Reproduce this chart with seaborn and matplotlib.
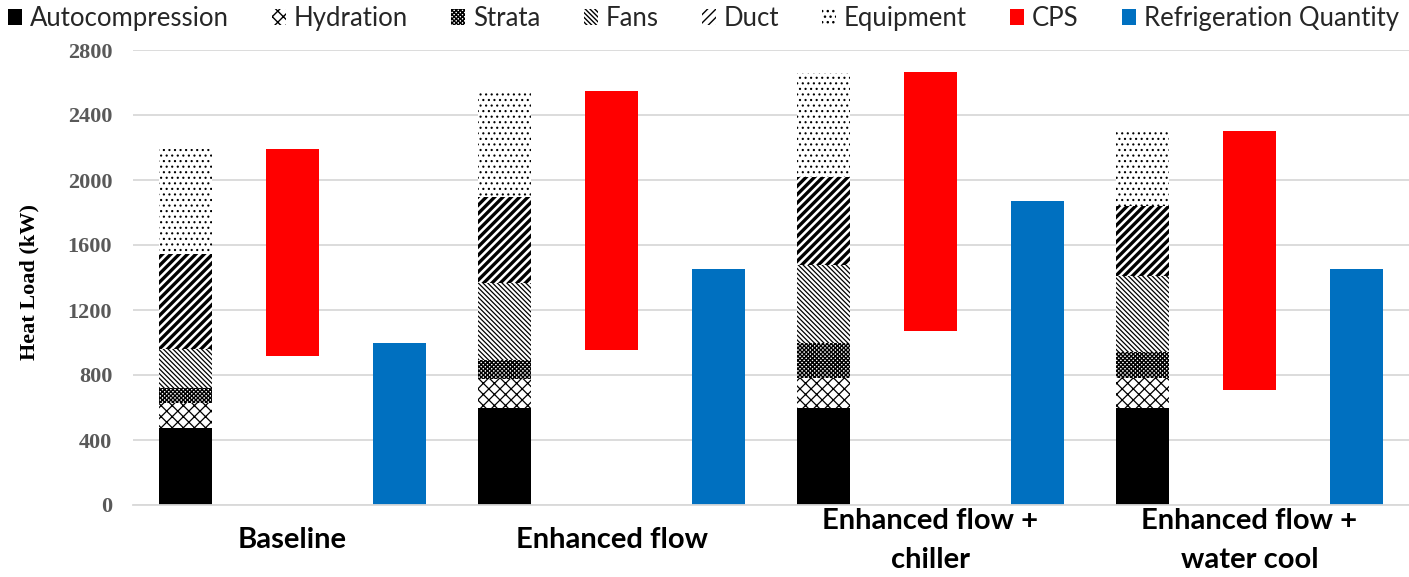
import numpy as np
import matplotlib
matplotlib.use("Agg")
import matplotlib.pyplot as plt
from matplotlib.patches import Patch
import seaborn as sns

# ---- data (kW) ----
scenarios = ["Baseline", "Enhanced flow", "Enhanced flow +\nchiller", "Enhanced flow +\nwater cool"]
autocompression = [475, 600, 600, 600]
hydration = [155, 175, 180, 180]
strata = [90, 115, 220, 160]
fans = [240, 475, 480, 470]
duct = [585, 530, 540, 430]
equipment = [645, 655, 640, 460]
cps_low = [920, 955, 1070, 710]
cps_high = [2190, 2550, 2665, 2300]
refrigeration = [1000, 1450, 1870, 1450]

y_ticks = [0, 400, 800, 1200, 1600, 2000, 2400, 2800]

sns.set_style("white")
plt.rcParams["font.family"] = ["Lato", "DejaVu Sans"]

fig = plt.figure(figsize=(14.09, 5.77), dpi=100)
ax = fig.add_axes([133 / 1409, 72 / 577, 1276 / 1409, 455 / 577])

idx = np.arange(len(scenarios))
offset = 0.335
bar_w = 0.166
x_stack = idx - offset
x_cps = idx
x_ref = idx + offset

# stacked components: (label, values, face, hatch, hatch linewidth)
layers = [
    ("Autocompression", autocompression, "black", None, 1.0),
    ("Hydration", hydration, "white", "xxx", 0.9),
    ("Strata", strata, "white", "xxxxxxxx", 1.0),
    ("Fans", fans, "white", "\\" * 7, 0.9),
    ("Duct", duct, "white", "////", 2.4),
    ("Equipment", equipment, "white", "...", 0.8),
]

tops = np.cumsum([np.asarray(v, dtype=float) for _, v, _, _, _ in layers], axis=0)

# draw cumulative tops from the highest layer down so each lower segment covers the one above
for k in range(len(layers) - 1, -1, -1):
    name, _, face, hatch, hlw = layers[k]
    with plt.rc_context({"hatch.linewidth": hlw}):
        n_before = len(ax.patches)
        sns.barplot(x=x_stack, y=tops[k], native_scale=True, width=bar_w,
                    color=face, saturation=1, edgecolor="black", linewidth=0,
                    hatch=hatch, errorbar=None, ax=ax)
        for p in ax.patches[n_before:]:
            if hasattr(p, "set_hatch_linewidth"):
                p.set_hatch_linewidth(hlw)

# CPS floating bars
cps_height = np.asarray(cps_high) - np.asarray(cps_low)
sns.barplot(x=x_cps, y=cps_height, bottom=cps_low, native_scale=True, width=bar_w,
            color="#FF0000", saturation=1, linewidth=0, errorbar=None, ax=ax)

# refrigeration quantity
sns.barplot(x=x_ref, y=refrigeration, native_scale=True, width=bar_w,
            color="#0070C0", saturation=1, linewidth=0, errorbar=None, ax=ax)

# ---- axes styling ----
ax.set_xlim(-0.5, len(scenarios) - 0.5)
ax.set_ylim(0, 2800)
ax.set_yticks(y_ticks)
ax.set_yticklabels([str(t) for t in y_ticks])
ax.set_xticks(idx)
ax.set_xticklabels(scenarios)
ax.set_axisbelow(True)
ax.yaxis.grid(True, color="#D9D9D9", linewidth=1.3)
ax.xaxis.grid(False)
for side in ("left", "right", "top"):
    ax.spines[side].set_visible(False)
ax.spines["bottom"].set_color("#D9D9D9")
ax.spines["bottom"].set_linewidth(1.3)

ax.tick_params(axis="y", length=0, pad=15)
ax.tick_params(axis="x", length=0, pad=25.5)
for lab in ax.get_yticklabels():
    lab.set_fontfamily("Liberation Serif")
    lab.set_fontweight("bold")
    lab.set_fontsize(16)
    lab.set_color("#595959")
for lab in ax.get_xticklabels():
    lab.set_fontweight("bold")
    lab.set_fontsize(21)
    lab.set_color("black")
    lab.set_verticalalignment("center")
    lab.set_linespacing(1.6)

ax.set_xlabel("")
ax.set_ylabel("Heat Load (kW)", fontfamily="Liberation Serif", fontweight="bold",
              fontsize=16, color="black")
ax.yaxis.set_label_coords(-0.073, 0.49)

# ---- legend ----
handles = []
labels = []
for name, _, face, hatch, hlw in layers:
    handles.append(Patch(facecolor=face, edgecolor="black", hatch=hatch, linewidth=0))
    labels.append(name)
handles.append(Patch(facecolor="#FF0000", linewidth=0))
labels.append("CPS")
handles.append(Patch(facecolor="#0070C0", linewidth=0))
labels.append("Refrigeration Quantity")

fig.legend(handles, labels, loc="upper left", bbox_to_anchor=(0.003, 0.996), ncol=8,
           frameon=False, fontsize=18.5, handlelength=0.55, handleheight=0.55,
           handletextpad=0.3, columnspacing=1.68, borderaxespad=0, borderpad=0.15)

fig.savefig("out.png", dpi=100)
